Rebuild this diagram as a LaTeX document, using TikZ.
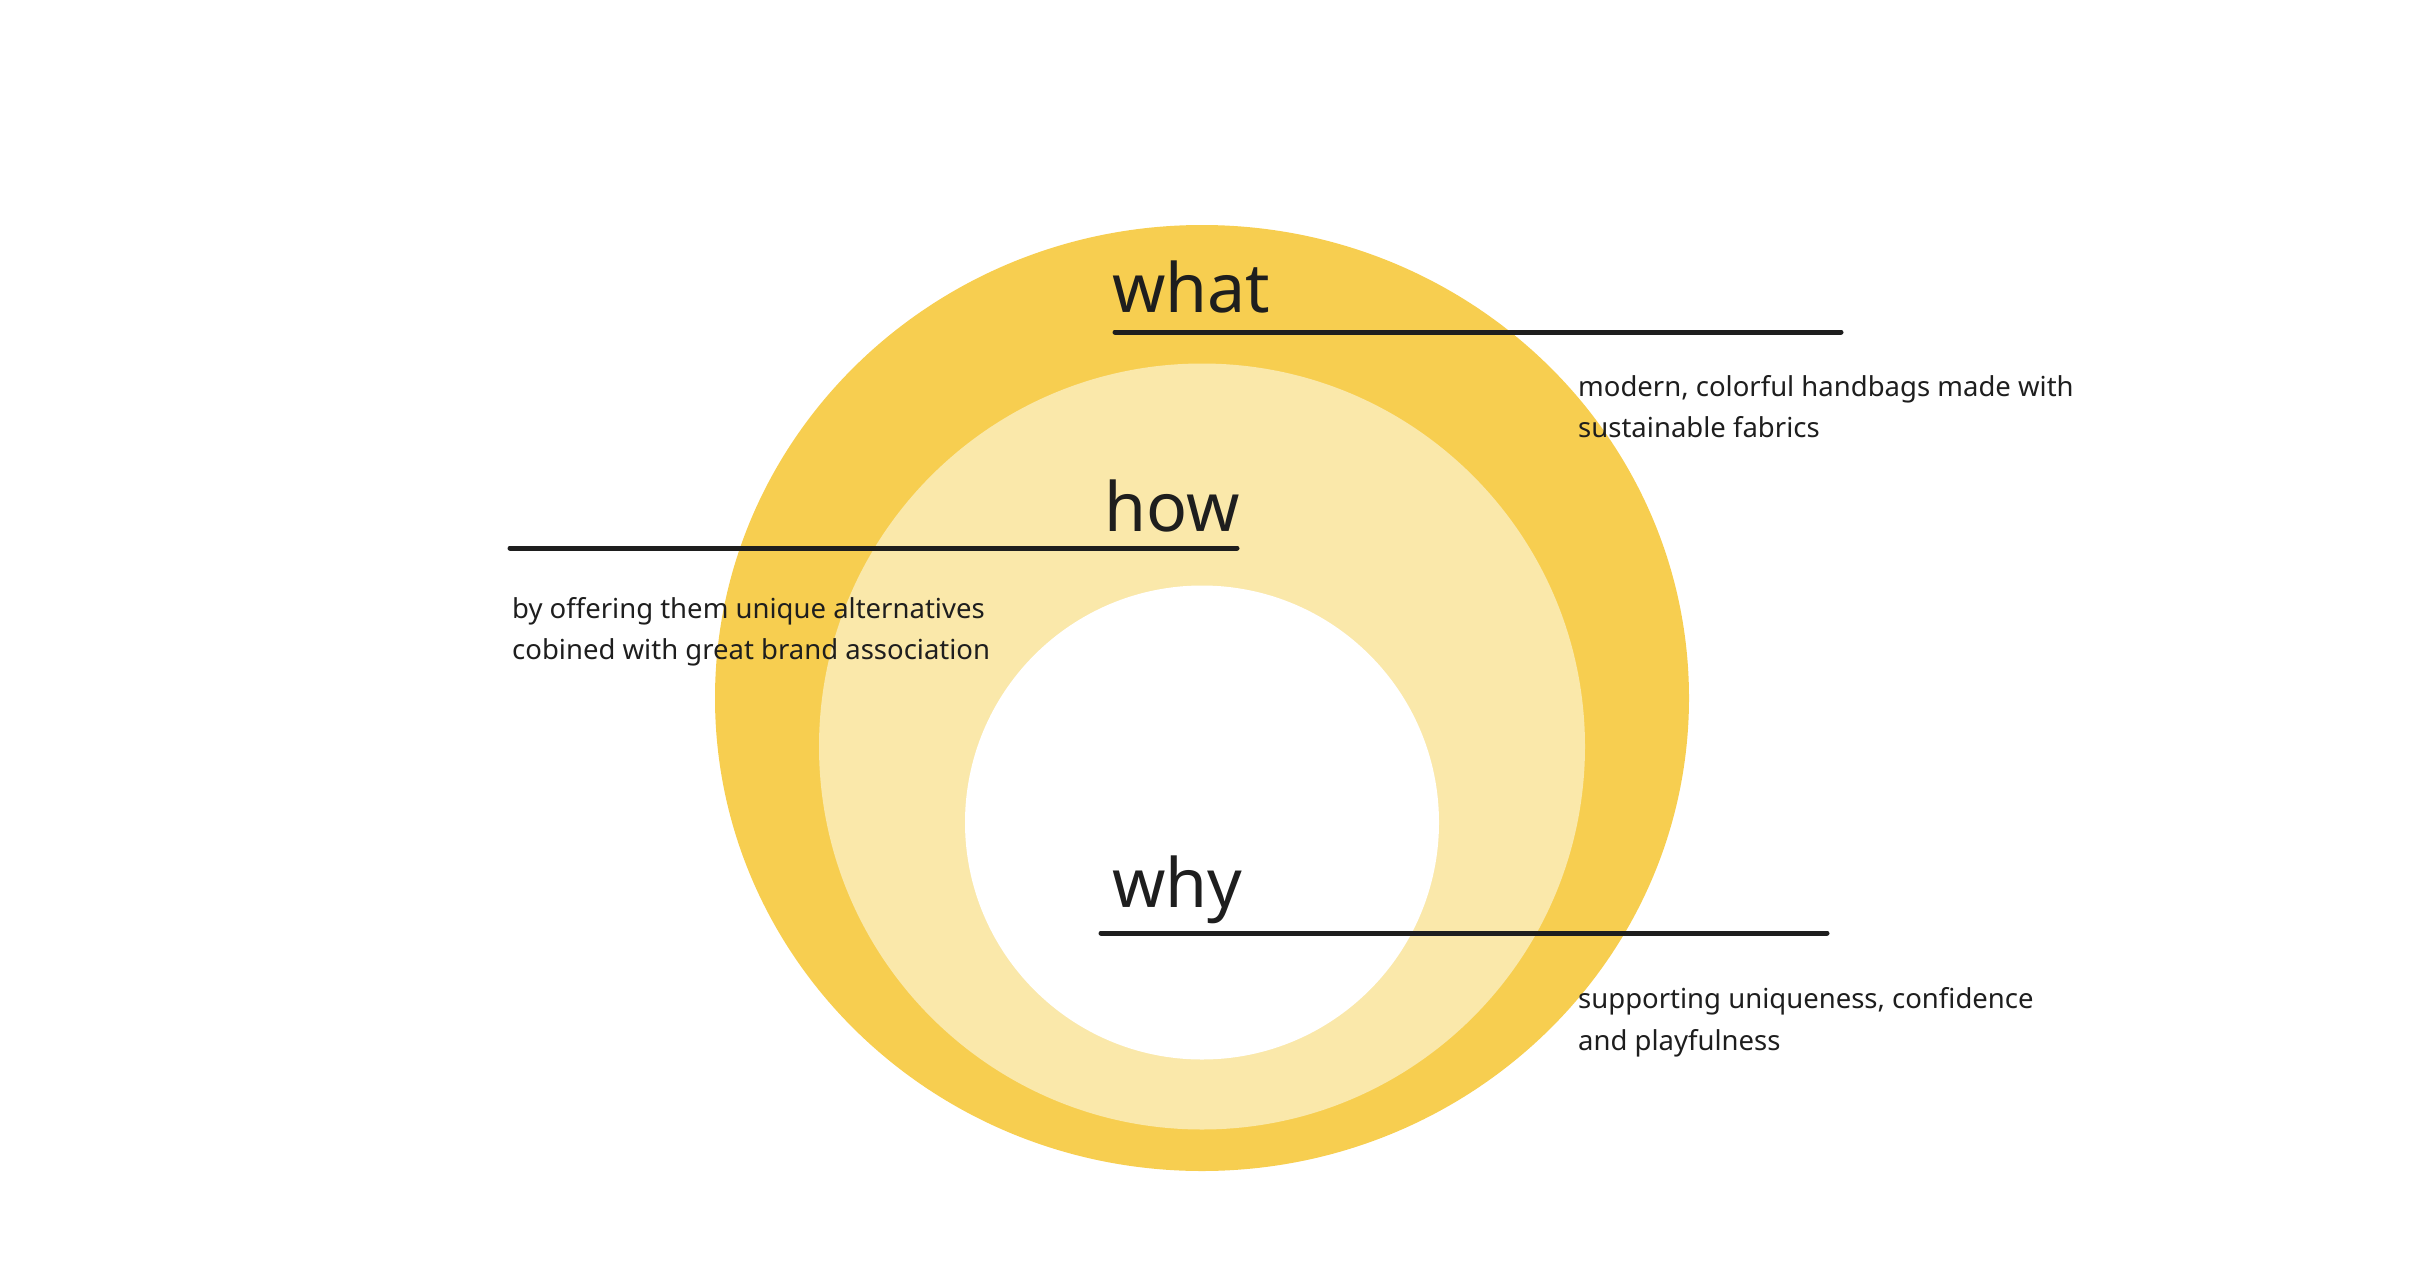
\documentclass[tikz,border=0pt]{standalone}
\usepackage{fontspec}
\setmainfont{Noto Sans}
\definecolor{ringOuter}{HTML}{F7CE50}
\definecolor{ringMiddle}{HTML}{FAE8AA}
\definecolor{ink}{HTML}{1E1E1E}
\begin{document}
\begin{tikzpicture}[x=1pt,y=-1pt,
  heading/.style={anchor=base west,inner sep=0pt,text=ink,font=\fontsize{68}{80}\selectfont},
  note/.style={anchor=base west,inner sep=0pt,text=ink,font=\fontsize{27.5}{33}\selectfont},
  rule/.style={draw=ink,line width=5pt,line cap=round}]
\useasboundingbox (0,0) rectangle (2418,1274);
% nested rings
\fill[ringOuter] (1202,698) ellipse (487 and 473);
\fill[ringMiddle] (1202,746.5) circle (383);
\fill[white] (1202,822.5) circle (237);

% what
\node[heading] (what) at (1112,312) {what};
\coordinate (whatL) at (1115,332);
\coordinate (whatR) at (1841,332);
\draw[rule] (whatL) -- (whatR);
\node[note] (whatA) at (1578,396) {modern, colorful handbags made with};
\node[note] (whatB) at (1578,437) {sustainable fabrics};

% how
\node[heading] (how) at (1104,531) {how};
\coordinate (howL) at (510,548);
\coordinate (howR) at (1237,548);
\draw[rule] (howL) -- (howR);
\node[note] (howA) at (512,618) {by offering them unique alternatives};
\node[note] (howB) at (512,659) {cobined with great brand association};

% why
\node[heading] (why) at (1112,907) {why};
\coordinate (whyL) at (1101,933);
\coordinate (whyR) at (1827,933);
\draw[rule] (whyL) -- (whyR);
\node[note] (whyA) at (1578,1008) {supporting uniqueness, confidence};
\node[note] (whyB) at (1578,1050) {and playfulness};
\end{tikzpicture}
\end{document}
